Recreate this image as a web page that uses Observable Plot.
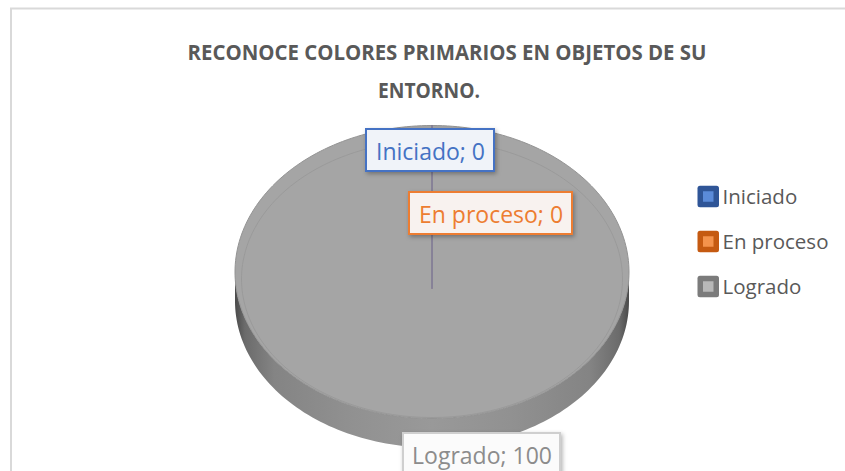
<!DOCTYPE html>
<html><head><meta charset="utf-8">
<script src="https://cdn.jsdelivr.net/npm/d3@7"></script>
<script src="https://cdn.jsdelivr.net/npm/@observablehq/plot@0.6"></script>
<style>
html,body{margin:0;padding:0;background:#fff;overflow:hidden;}
#chart{width:845px;height:471px;}
</style></head><body><div id="chart"></div>
<script>
// ---- data ----
const titleLines = ["RECONOCE COLORES PRIMARIOS EN OBJETOS DE SU", "ENTORNO."];
const categories = ["Iniciado", "En proceso", "Logrado"];
const values = [0, 0, 100];
const colors = ["#4472C4", "#ED7D31", "#A5A5A5"];
const darkColors = ["#2F5597", "#C55A11", "#7B7B7B"];
const lightColors = ["#5B8BD9", "#F4934C", "#B8B8B8"];
const labelTextColors = ["#4472C4", "#ED7D31", "#8C8C8C"];
const labelBorderColors = ["#4472C4", "#ED7D31", "#CFCFCF"];
const labelFills = ["#F0F3F9", "#F8F2EF", "#FBFBFB"];

// ---- layout ----
const W = 845, H = 471;
const top3d = {cx: 431.5, cy: 271.5, rx: 197, ry: 146.5};
const depth = 29, apexDrop = 16.5;
const bevel = {cx: 431.5, cy: 278.5, rx: 190.5, ry: 138.5};
const labelLayout = {
  "Iniciado":   {dx: -1.5, dy: 25, w: 128, h: 42},
  "En proceso": {dx: 59,   dy: 88, w: 163, h: 42},
  "Logrado":    {dx: 50,   dy: 36, w: 157, h: 42}
};

// ---- geometry from data ----
const TAU = 2 * Math.PI;
const total = d3.sum(values);
let acc = 0;
const slices = categories.map((c, i) => {
  const a0 = acc / total * TAU; acc += values[i]; const a1 = acc / total * TAU;
  return {c, i, v: values[i], a0, a1};
});
const pt = (e, a, dy = 0) => ({x: e.cx + e.rx * Math.sin(a), y: e.cy - e.ry * Math.cos(a) + dy});
const arc = (e, a0, a1, dy = 0) => {
  const n = Math.max(2, Math.ceil((a1 - a0) / TAU * 240));
  return d3.range(n + 1).map(k => pt(e, a0 + (a1 - a0) * k / n, dy));
};
const apex = {x: top3d.cx, y: top3d.cy + apexDrop};

const topFaces = [], sideFaces = [], zeroLines = [];
for (const s of slices) {
  if (s.v > 0) {
    const pts = s.v === total ? arc(top3d, 0, TAU) : [apex, ...arc(top3d, s.a0, s.a1), apex];
    pts.forEach(p => topFaces.push({...p, i: s.i}));
    const s0 = Math.max(s.a0, Math.PI / 2), s1 = Math.min(s.a1, 3 * Math.PI / 2);
    if (s1 > s0) {
      [...arc(top3d, s0, s1), ...arc(top3d, s0, s1, depth).reverse()].forEach(p => sideFaces.push({...p, i: s.i}));
    }
  } else {
    [apex, pt(top3d, s.a0)].forEach(p => zeroLines.push({...p, i: s.i}));
  }
}
const bevelPts = arc(bevel, 0, TAU);

const labels = slices.map(s => {
  const mid = (s.a0 + s.a1) / 2;
  const a = pt(top3d, mid);
  const L = labelLayout[s.c];
  const cx = a.x + L.dx, cy = a.y + L.dy;
  return {text: `${s.c}; ${s.v}`, cx, cy, x1: cx - L.w / 2, x2: cx + L.w / 2, y1: cy - L.h / 2, y2: cy + L.h / 2,
          stroke: labelBorderColors[s.i], fill: labelFills[s.i], color: labelTextColors[s.i]};
});

const legend = categories.map((c, i) => ({c, y: 196.5 + i * 45, dark: darkColors[i], light: lightColors[i]}));
const titles = titleLines.map((t, i) => ({t, x: [446.5, 428.5][i], y: [59, 97][i], len: [519, 102][i]}));

const sideSeries = d3.groups(sideFaces, d => d.i);
const topSeries = d3.groups(topFaces, d => d.i);

const marks = [
  Plot.rect([{x1: 11, y1: 8.5, x2: 848, y2: 474}], {x1: "x1", y1: "y1", x2: "x2", y2: "y2", fill: "white", stroke: "#D9D9D9", strokeWidth: 2}),
  ...sideSeries.map(([i, pts]) => Plot.line(pts, {x: "x", y: "y", fill: `url(#side-${i})`, stroke: "none", curve: "linear"})),
  ...topSeries.map(([i, pts]) => Plot.line(pts, {x: "x", y: "y", fill: colors[i], stroke: "#939393", strokeWidth: 1, curve: "linear"})),
  Plot.line(bevelPts, {x: "x", y: "y", stroke: "#989898", strokeWidth: 0.9, fill: "none"}),
  ...d3.groups(zeroLines, d => d.i).reverse().map(([i, pts]) => Plot.line(pts, {x: "x", y: "y", stroke: colors[i], strokeWidth: 1})),
  Plot.rect(labels, {x1: "x1", x2: "x2", y1: "y1", y2: "y2", fill: "fill", stroke: "stroke", strokeWidth: 2}),
  Plot.text(labels, {x: "cx", y: d => d.cy + 2, text: "text", fill: "color", fontSize: 23, fontFamily: "Open Sans", lineAnchor: "middle", textAnchor: "middle"}),
  Plot.rect(legend, {x1: () => 697.5, x2: () => 719, y1: d => d.y - 10.75, y2: d => d.y + 10.75, fill: "dark", rx: 2.5}),
  Plot.rect(legend, {x1: () => 703, x2: () => 713.5, y1: d => d.y - 5.25, y2: d => d.y + 5.25, fill: "light"}),
  Plot.text(legend, {x: () => 722, y: "y", text: "c", fill: "#595959", fontSize: 20.5, fontFamily: "Open Sans", textAnchor: "start", lineAnchor: "middle"}),
  Plot.text(titles, {x: "x", y: "y", text: "t", fill: "#595959", fontSize: 21.5, fontWeight: "bold", fontFamily: "Open Sans", lineAnchor: "bottom", textAnchor: "middle"})
];

const svg = Plot.plot({
  width: W, height: H, margin: 0,
  x: {domain: [0, W], range: [0, W], axis: null},
  y: {domain: [0, H], range: [0, H], axis: null},
  color: {type: "identity"},
  style: {background: "white", overflow: "hidden"},
  marks
});
document.getElementById("chart").appendChild(svg);

// defs: gradients for the pie side, shadow filter
const s = d3.select(svg);
const defs = s.insert("defs", ":first-child");
colors.forEach((c, i) => {
  const base = d3.color(c);
  const g = defs.append("linearGradient").attr("id", `side-${i}`).attr("x1", 0).attr("x2", 1).attr("y1", 0).attr("y2", 0);
  [[0, 0.45], [0.025, 0.65], [0.1, 0.8], [0.3, 0.88], [0.5, 0.93], [0.7, 0.88], [0.9, 0.8], [0.975, 0.65], [1, 0.45]].forEach(([o, k]) => {
    const col = d3.rgb(base.r * k, base.g * k, base.b * k);
    g.append("stop").attr("offset", o).attr("stop-color", col.formatHex());
  });
});
const f = defs.append("filter").attr("id", "shadow").attr("x", "-20%").attr("y", "-30%").attr("width", "140%").attr("height", "170%");
f.append("feDropShadow").attr("dx", 1.5).attr("dy", 2).attr("stdDeviation", 2).attr("flood-color", "#000").attr("flood-opacity", 0.3);
const fillsLower = labelFills.map(c => c.toLowerCase());
s.selectAll("rect").filter(function() {
  return fillsLower.includes((this.getAttribute("fill") || "").toLowerCase());
}).attr("filter", "url(#shadow)");
s.selectAll("text").filter(function() { return titleLines.includes(this.textContent); })
  .each(function() {
    const k = titleLines.indexOf(this.textContent);
    d3.select(this).attr("textLength", titles[k].len).attr("lengthAdjust", "spacingAndGlyphs");
  });
</script></body></html>
